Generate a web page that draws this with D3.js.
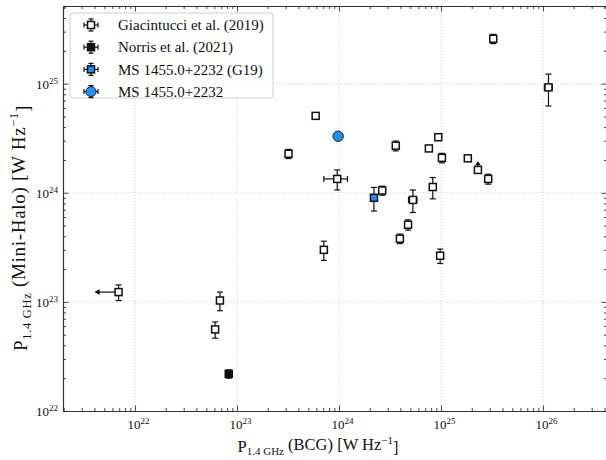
<!DOCTYPE html>
<html>
<head>
<meta charset="utf-8">
<script src="https://cdn.jsdelivr.net/npm/d3@7"></script>
<style>
  body { margin: 0; background: #fff; }
  text { font-family: "Liberation Serif", "DejaVu Serif", serif; fill: #111; }
</style>
</head>
<body>
<div id="chart"></div>
<script>
// Giacintucci et al. (2019) - open squares
const giaX    = [6.9e21, 6.8e22, 6.1e22, 3.2e23, 5.9e23, 9.6e23, 7.1e23, 2.65e24, 3.6e24, 7.6e24, 9.4e24,
                 1.02e25, 1.83e25, 2.3e25, 2.9e25, 8.3e24, 5.3e24, 4.75e24, 3.95e24, 9.8e24, 3.25e25, 1.13e26];
const giaY    = [1.23e23, 1.03e23, 5.6e22, 2.28e24, 5.07e24, 1.34e24, 3.0e23, 1.05e24, 2.7e24, 2.55e24, 3.23e24,
                 2.09e24, 2.07e24, 1.62e24, 1.34e24, 1.13e24, 8.6e23, 5.1e23, 3.8e23, 2.65e23, 2.58e25, 9.25e24];
const giaYErr = [0.2e23, 0.2e23, 0.95e22, 0.22e24, 0, 0.28e24, 0.6e23, 0.1e24, 0.28e24, 0, 0,
                 0.21e24, 0, 0, 0.14e24, 0.25e24, 0.2e24, 0.055e24, 0.038e24, 0.4e23, 0.25e25, 0.3e25];
const giaXErr = [0, 0, 0, 0, 0, 2.5e23, 0, 0, 0, 0, 0,
                 0, 0, 0, 0, 0, 0.5e24, 0, 0, 0, 0, 0.1e26];
// "xu" = upper limit on x, "yl" = lower limit on y
const giaLimit = ["xu", "", "", "", "", "", "", "", "", "", "",
                  "", "", "yl", "", "", "", "", "", "", "", ""];

// Norris et al. (2021)
const norX = [8.3e22], norY = [2.19e22], norYErr = [0.19e22];

// MS 1455.0+2232 (G19)
const g19X = [2.2e24], g19Y = [9.0e23], g19YErr = [0.22e24];

// MS 1455.0+2232
const msX = [9.8e23], msY = [3.3e24];

const legendLabels = ["Giacintucci et al. (2019)", "Norris et al. (2021)", "MS 1455.0+2232 (G19)", "MS 1455.0+2232"];
const majorX = [1e22, 1e23, 1e24, 1e25, 1e26];
const majorY = [1e22, 1e23, 1e24, 1e25];
const expX = [22, 23, 24, 25, 26];
const expY = [22, 23, 24, 25];

const width = 606, height = 460;
const pLeft = 63, pRight = 607, pTop = 6, pBottom = 411;
const blue = "#1E90FF";

const svg = d3.select("#chart").append("svg")
  .attr("width", width).attr("height", height);

const x = d3.scaleLog().domain([Math.pow(10, 21.294), Math.pow(10, 26.627)]).range([pLeft, pRight]);
const y = d3.scaleLog().domain([1e22, Math.pow(10, 25.712)]).range([pBottom, pTop]);

function minors(scale) {
  const [a, b] = scale.domain();
  const out = [];
  for (let e = 20; e <= 27; e++)
    for (let k = 2; k <= 9; k++) {
      const v = k * Math.pow(10, e);
      if (v > a && v < b) out.push(v);
    }
  return out;
}

// grid
svg.append("g").selectAll("line").data(majorX).enter().append("line")
  .attr("x1", d => x(d)).attr("x2", d => x(d)).attr("y1", pTop).attr("y2", pBottom)
  .attr("stroke", "#c8c8c8").attr("stroke-width", 0.8).attr("stroke-dasharray", "1,2");
svg.append("g").selectAll("line").data(majorY.slice(1)).enter().append("line")
  .attr("y1", d => y(d)).attr("y2", d => y(d)).attr("x1", pLeft).attr("x2", pRight)
  .attr("stroke", "#c8c8c8").attr("stroke-width", 0.8).attr("stroke-dasharray", "1,2");

// axes with inward ticks
function addAxis(axisFn, scale, tr, major, minor) {
  const g = svg.append("g").attr("transform", tr);
  g.call(axisFn(scale).tickValues(minor).tickSize(-3).tickSizeOuter(0).tickFormat(""));
  const g2 = svg.append("g").attr("transform", tr);
  g2.call(axisFn(scale).tickValues(major).tickSize(-5.5).tickSizeOuter(0).tickFormat("").tickPadding(7));
  [g, g2].forEach(s => {
    s.select(".domain").attr("stroke", "#333").attr("stroke-width", 1.1);
    s.selectAll(".tick line").attr("stroke", "#333").attr("stroke-width", 0.9);
  });
  return g2;
}
const gxb = addAxis(d3.axisBottom, x, `translate(0,${pBottom})`, majorX, minors(x));
addAxis(d3.axisTop, x, `translate(0,${pTop})`, majorX, minors(x));
const gyl = addAxis(d3.axisLeft, y, `translate(${pLeft},0)`, majorY, minors(y));
addAxis(d3.axisRight, y, `translate(${pRight},0)`, majorY, minors(y));

function powLabel(sel, e) {
  sel.append("tspan").text("10");
  sel.append("tspan").text(e).attr("font-size", "9px").attr("dy", "-0.55em");
}
gxb.selectAll(".tick").each(function(d, i) {
  const t = d3.select(this).append("text")
    .attr("y", 18).attr("text-anchor", "middle").attr("font-size", "13px").attr("dx", 3);
  powLabel(t, expX[i]);
});
gyl.selectAll(".tick").each(function(d, i) {
  const t = d3.select(this).append("text")
    .attr("x", -5).attr("dy", "0.35em").attr("text-anchor", "end").attr("font-size", "13px");
  powLabel(t, expY[i]);
});

// axis labels
const xl = svg.append("text").attr("x", 318).attr("y", 452).attr("text-anchor", "middle").attr("font-size", "16.5px");
xl.append("tspan").text("P");
xl.append("tspan").text("1.4 GHz").attr("font-size", "11px").attr("dy", "0.3em");
xl.append("tspan").text(" (BCG) [W Hz").attr("dy", "-0.3em");
xl.append("tspan").text("\u22121").attr("font-size", "11px").attr("dy", "-0.55em");
xl.append("tspan").text("]").attr("dy", "0.55em");

const yl = svg.append("text").attr("transform", "translate(27,228) rotate(-90)")
  .attr("text-anchor", "middle").attr("font-size", "19px").attr("letter-spacing", "0.7px");
yl.append("tspan").text("P");
yl.append("tspan").text("1.4 GHz").attr("font-size", "12.5px").attr("dy", "0.3em");
yl.append("tspan").text(" (Mini-Halo) [W Hz").attr("dy", "-0.3em");
yl.append("tspan").text("\u22121").attr("font-size", "12.5px").attr("dy", "-0.55em");
yl.append("tspan").text("]").attr("dy", "0.55em");

// marks
const plot = svg.append("g");
const cap = 3;
function errY(px, v, e) {
  if (!e) return;
  const y1 = y(v - e), y2 = y(v + e);
  plot.append("line").attr("x1", px).attr("x2", px).attr("y1", y1).attr("y2", y2)
    .attr("stroke", "#111").attr("stroke-width", 1.2);
  [y1, y2].forEach(yy => plot.append("line").attr("x1", px - cap).attr("x2", px + cap)
    .attr("y1", yy).attr("y2", yy).attr("stroke", "#111").attr("stroke-width", 1.2));
}
function errX(py, v, e) {
  if (!e) return;
  const x1 = x(v - e), x2 = x(v + e);
  plot.append("line").attr("y1", py).attr("y2", py).attr("x1", x1).attr("x2", x2)
    .attr("stroke", "#111").attr("stroke-width", 1.2);
  [x1, x2].forEach(xx => plot.append("line").attr("y1", py - cap).attr("y2", py + cap)
    .attr("x1", xx).attr("x2", xx).attr("stroke", "#111").attr("stroke-width", 1.2));
}
function square(px, py, fill, s) {
  plot.append("rect").attr("x", px - s / 2).attr("y", py - s / 2).attr("width", s).attr("height", s)
    .attr("fill", fill).attr("stroke", "#111").attr("stroke-width", 1.5);
}

giaX.forEach((v, i) => {
  const px = x(v), py = y(giaY[i]);
  errY(px, giaY[i], giaYErr[i]);
  errX(py, v, giaXErr[i]);
  if (giaLimit[i] === "xu") {
    const ex = x(v / 1.72);
    plot.append("line").attr("x1", px).attr("x2", ex + 4).attr("y1", py).attr("y2", py)
      .attr("stroke", "#111").attr("stroke-width", 1.2);
    plot.append("path").attr("d", `M${ex},${py}L${ex + 5},${py - 3}L${ex + 5},${py + 3}Z`).attr("fill", "#111");
  }
  if (giaLimit[i] === "yl") {
    const ey = y(giaY[i] * 1.2);
    plot.append("line").attr("x1", px).attr("x2", px).attr("y1", py).attr("y2", ey + 3)
      .attr("stroke", "#111").attr("stroke-width", 1.2);
    plot.append("path").attr("d", `M${px},${ey}L${px - 3},${ey + 4}L${px + 3},${ey + 4}Z`).attr("fill", "#111");
  }
  square(px, py, "#fff", 7);
});

norX.forEach((v, i) => { errY(x(v), norY[i], norYErr[i]); square(x(v), y(norY[i]), "#111", 7); });
g19X.forEach((v, i) => { errY(x(v), g19Y[i], g19YErr[i]); square(x(v), y(g19Y[i]), blue, 7); });
msX.forEach((v, i) => {
  plot.append("circle").attr("cx", x(v)).attr("cy", y(msY[i])).attr("r", 5.2)
    .attr("fill", blue).attr("stroke", "#222").attr("stroke-width", 1);
});

// legend
const lg = svg.append("g");
lg.append("rect").attr("x", 70).attr("y", 13).attr("width", 203).attr("height", 85).attr("rx", 3)
  .attr("fill", "#fff").attr("fill-opacity", 0.85).attr("stroke", "#d0d0d0").attr("stroke-width", 1);
legendLabels.forEach((lab, i) => {
  const cy = 25 + i * 22.2, cx = 91;
  const h = lg.append("g");
  h.append("line").attr("x1", cx - 7).attr("x2", cx + 7).attr("y1", cy).attr("y2", cy).attr("stroke", "#111").attr("stroke-width", 1.2);
  h.append("line").attr("x1", cx).attr("x2", cx).attr("y1", cy - 6).attr("y2", cy + 6).attr("stroke", "#111").attr("stroke-width", 1.2);
  [cx - 7, cx + 7].forEach(xx => h.append("line").attr("x1", xx).attr("x2", xx).attr("y1", cy - 2.5).attr("y2", cy + 2.5).attr("stroke", "#111").attr("stroke-width", 1.2));
  [cy - 6, cy + 6].forEach(yy => h.append("line").attr("x1", cx - 2.5).attr("x2", cx + 2.5).attr("y1", yy).attr("y2", yy).attr("stroke", "#111").attr("stroke-width", 1.2));
  if (i === 3) {
    h.append("circle").attr("cx", cx).attr("cy", cy).attr("r", 5).attr("fill", blue).attr("stroke", "#222");
  } else {
    const f = ["#fff", "#111", blue][i];
    h.append("rect").attr("x", cx - 3.5).attr("y", cy - 3.5).attr("width", 7).attr("height", 7)
      .attr("fill", f).attr("stroke", "#111").attr("stroke-width", 1.5);
  }
  lg.append("text").attr("x", 118).attr("y", cy).attr("dy", "0.35em").attr("font-size", "15px").text(lab);
});
</script>
</body>
</html>
